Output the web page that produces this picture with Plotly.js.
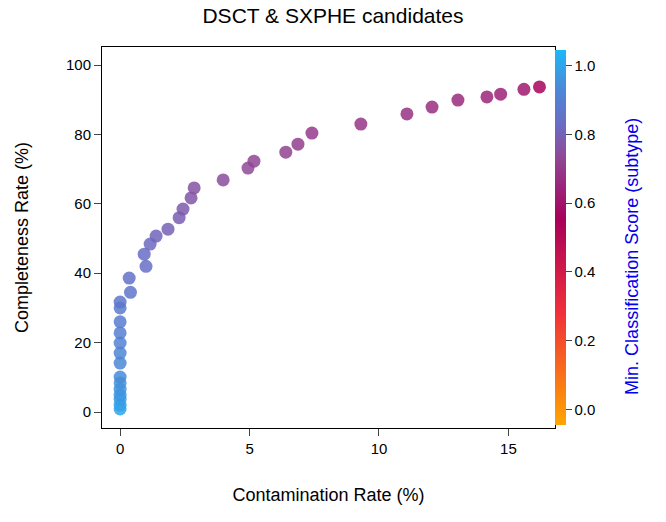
<!DOCTYPE html>
<html><head><meta charset="utf-8">
<script src="https://cdn.plot.ly/plotly-3.0.1.min.js"></script>
<style>body{margin:0}</style></head>
<body><div id="plot" style="width:666px;height:522px"></div>
<script>
// contamination (%), completeness (%), min classification score
var contamination = [0,0,0,0,0,0,0,0,0,0,0,0,0,0,0.4,0.35,1.0,0.93,1.16,1.39,1.85,2.28,2.43,2.74,2.86,
  3.98,4.94,5.17,6.4,6.87,7.41,9.3,11.08,12.05,13.05,14.17,14.7,15.6,16.2];
var completeness = [0.9,2,3.7,4.9,6.6,8.4,10.1,14.1,17,19.9,22.8,26,30,31.7,34.5,38.6,42,45.5,48.4,50.7,52.7,56,58.5,61.7,64.6,
  66.9,70.3,72.3,74.9,77.2,80.4,83,85.9,87.9,89.9,90.8,91.6,93,93.7];
var score = [1.0,0.99,0.98,0.97,0.96,0.95,0.94,0.93,0.92,0.91,0.9,0.89,0.88,0.87,0.86,0.85,0.84,0.83,0.82,0.81,0.8,0.79,0.78,0.77,0.76,
  0.75,0.74,0.73,0.72,0.71,0.7,0.69,0.68,0.67,0.66,0.65,0.64,0.62,0.56];

var scale = [[0,'#FFA500'],[0.3,'#F0303A'],[0.55,'#A8005A'],[0.72,'#8E4A98'],[0.8,'#6A6CC4'],[0.9,'#4A8AD8'],[1,'#1CB8F8']];

Plotly.newPlot('plot', [{
  x: contamination, y: completeness, type: 'scatter', mode: 'markers',
  marker: {size: 13, color: score, cmin: -0.045, cmax: 1.045, colorscale: scale, opacity: 0.85,
    colorbar: {x: 1, xanchor: 'left', xpad: 0, ypad: 0, y: 0.5, len: 0.985, thickness: 11,
      outlinewidth: 0, ticks: 'outside', ticklen: 6, tickvals: [0,0.2,0.4,0.6,0.8,1],
      ticktext: ['0.0','0.2','0.4','0.6','0.8','1.0'], tickfont: {size: 15, color: '#000'}}}
}], {
  width: 666, height: 522,
  margin: {l: 102, r: 111, t: 47, b: 94},
  font: {family: 'Liberation Sans, Arial', size: 15, color: '#000'},
  title: {text: 'DSCT & SXPHE candidates', x: 0.5, y: 0.985, yanchor: 'top', font: {size: 21}},
  xaxis: {range: [-0.7, 16.8], tickvals: [0,5,10,15], showgrid: false, zeroline: false,
    showline: true, mirror: true, linecolor: '#000', ticks: 'outside', ticklen: 7,
    title: {text: 'Contamination Rate (%)', standoff: 32, font: {size: 18}}},
  yaxis: {range: [-4.6, 105.2], tickvals: [0,20,40,60,80,100], showgrid: false, zeroline: false,
    showline: true, mirror: true, linecolor: '#000', ticks: 'outside', ticklen: 7,
    title: {text: 'Completeness Rate (%)', standoff: 32, font: {size: 18}}},
  annotations: [{text: 'Min. Classification Score (subtype)', xref: 'paper', yref: 'paper',
    x: 1.195, y: 0.45, textangle: -90, showarrow: false, font: {size: 18, color: '#0000EE'}}],
  plot_bgcolor: '#fff', paper_bgcolor: '#fff'
}, {displayModeBar: false});
</script></body></html>
